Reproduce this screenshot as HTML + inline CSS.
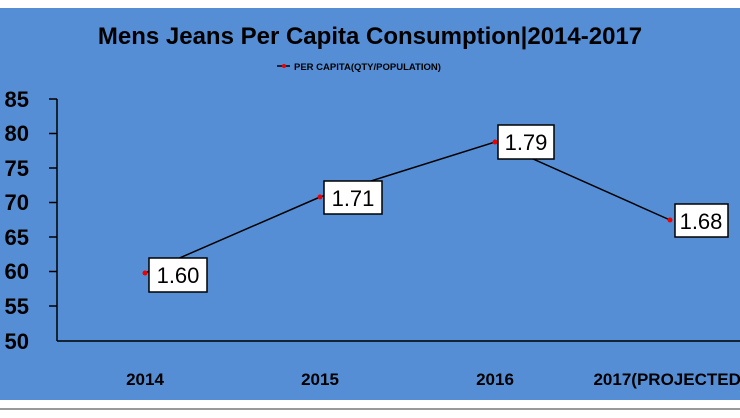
<!DOCTYPE html>
<html><head><style>
body{margin:0;width:740px;height:413px;overflow:hidden;background:#fff;font-family:"Liberation Sans",sans-serif;}
</style></head><body>
<svg width="740" height="413" xmlns="http://www.w3.org/2000/svg" font-family="Liberation Sans, sans-serif">
<rect x="0" y="0" width="740" height="413" fill="#fff"/>
<rect x="0" y="8" width="740" height="392" fill="#558ed5"/>
<line x1="0" y1="409" x2="740" y2="409" stroke="#999" stroke-width="2"/>
<text x="370" y="44" text-anchor="middle" font-size="24" font-weight="bold" fill="#000">Mens Jeans Per Capita Consumption|2014-2017</text>
<line x1="277" y1="66" x2="290" y2="66" stroke="#000" stroke-width="1.5"/>
<circle cx="284" cy="66" r="2" fill="#e00"/>
<text x="294" y="70" font-size="9.5" font-weight="bold" fill="#000">PER CAPITA(QTY/POPULATION)</text>
<g stroke="#000" stroke-width="1.5">
<line x1="57" y1="99" x2="57" y2="341"/>
<line x1="57" y1="341" x2="740" y2="341"/>
<line x1="49" y1="99" x2="57" y2="99"/><line x1="49" y1="133.5" x2="57" y2="133.5"/>
<line x1="49" y1="168" x2="57" y2="168"/><line x1="49" y1="202.5" x2="57" y2="202.5"/>
<line x1="49" y1="237" x2="57" y2="237"/><line x1="49" y1="271.5" x2="57" y2="271.5"/>
<line x1="49" y1="306" x2="57" y2="306"/>
</g>
<g font-size="22" font-weight="bold" text-anchor="end" fill="#000">
<text x="29" y="107">85</text><text x="29" y="141">80</text><text x="29" y="176">75</text>
<text x="29" y="210">70</text><text x="29" y="245">65</text><text x="29" y="279">60</text>
<text x="29" y="314">55</text><text x="29" y="349">50</text>
</g>
<g font-size="17" font-weight="bold" text-anchor="middle" fill="#000">
<text x="145" y="385">2014</text><text x="320" y="385">2015</text><text x="495" y="385">2016</text><text x="670" y="385">2017(PROJECTED)</text>
</g>
<polyline points="145,273 320,197 495,142 670,220" fill="none" stroke="#000" stroke-width="1.5"/>
<g fill="#e00"><circle cx="145" cy="273" r="2.5"/><circle cx="320" cy="197" r="2.5"/><circle cx="495" cy="142" r="2.5"/><circle cx="670" cy="220" r="2.5"/></g>
<g fill="#fff" stroke="#000" stroke-width="1.5">
<rect x="149" y="258" width="58" height="34"/><rect x="324" y="181" width="58" height="33"/>
<rect x="498" y="125" width="56" height="34"/><rect x="675" y="204" width="53" height="33"/>
</g>
<g font-size="22" fill="#000" text-anchor="middle">
<text x="178" y="283">1.60</text><text x="353" y="206">1.71</text><text x="526" y="150">1.79</text><text x="701" y="229">1.68</text>
</g>
</svg>
</body></html>
